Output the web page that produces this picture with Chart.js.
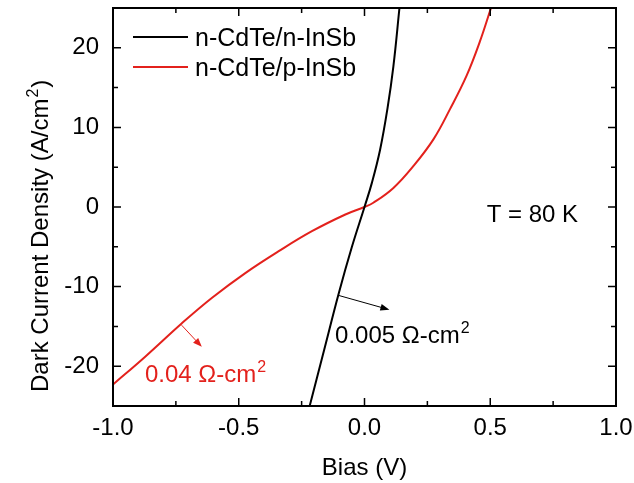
<!DOCTYPE html>
<html>
<head>
<meta charset="utf-8">
<script src="https://cdn.jsdelivr.net/npm/chart.js@4.4.1/dist/chart.umd.min.js"></script>
<style>
  html, body { margin: 0; padding: 0; background: #fff; }
  #wrap { width: 634px; height: 483px; }
</style>
</head>
<body>
<div id="wrap"><canvas id="ivChart"></canvas></div>
<script>
// n-CdTe/n-InSb (black)
const biasN = [-0.218, -0.16, -0.102, -0.05, 0, 0.029, 0.062, 0.091, 0.115, 0.139];
const currentN = [-25, -17.9, -10.8, -5.0, 0, 3.0, 7.2, 12.3, 17.7, 25];

// n-CdTe/p-InSb (red)
const biasP = [-1.0, -0.872, -0.726, -0.606, -0.474, -0.341, -0.209, -0.076, 0, 0.035, 0.115, 0.194, 0.274, 0.34, 0.406, 0.459, 0.503];
const currentP = [-22.3, -18.8, -14.6, -11.4, -8.3, -5.55, -3.04, -0.94, 0, 0.53, 2.4, 5.13, 8.5, 12.3, 16.5, 20.8, 25];

const xTicks = [-1.0, -0.5, 0.0, 0.5, 1.0];
const xMinor = [-0.75, -0.25, 0.25, 0.75];
const yTicks = [-20, -10, 0, 10, 20];
const yMinor = [-15, -5, 5, 15];

const FONT = 'Liberation Sans, Arial, sans-serif';
const RED = '#e3211c';

function toPoints(xs, ys) {
  return xs.map((x, i) => ({ x: x, y: ys[i] }));
}

// frame + inward ticks on all four sides
const frameTicks = {
  id: 'frameTicks',
  afterDraw(chart) {
    const c = chart.ctx, a = chart.chartArea;
    const sx = chart.scales.x, sy = chart.scales.y;
    c.save();
    c.strokeStyle = '#000';
    c.lineWidth = 2;
    c.strokeRect(a.left, a.top, a.right - a.left, a.bottom - a.top);
    c.lineWidth = 1.5;
    c.beginPath();
    const xt = (vals, len) => vals.forEach(v => {
      const p = sx.getPixelForValue(v);
      c.moveTo(p, a.bottom); c.lineTo(p, a.bottom - len);
      c.moveTo(p, a.top); c.lineTo(p, a.top + len);
    });
    const yt = (vals, len) => vals.forEach(v => {
      const p = sy.getPixelForValue(v);
      c.moveTo(a.left, p); c.lineTo(a.left + len, p);
      c.moveTo(a.right, p); c.lineTo(a.right - len, p);
    });
    xt(xTicks, 8); xt(xMinor, 5);
    yt(yTicks, 8); yt(yMinor, 5);
    c.stroke();
    c.restore();
  }
};

function arrow(c, x1, y1, x2, y2, color) {
  const ang = Math.atan2(y2 - y1, x2 - x1);
  c.strokeStyle = color; c.fillStyle = color; c.lineWidth = 1;
  c.beginPath(); c.moveTo(x1, y1); c.lineTo(x2 - 6 * Math.cos(ang), y2 - 6 * Math.sin(ang)); c.stroke();
  c.beginPath();
  c.moveTo(x2, y2);
  c.lineTo(x2 - 9 * Math.cos(ang) + 3.5 * Math.sin(ang), y2 - 9 * Math.sin(ang) - 3.5 * Math.cos(ang));
  c.lineTo(x2 - 9 * Math.cos(ang) - 3.5 * Math.sin(ang), y2 - 9 * Math.sin(ang) + 3.5 * Math.cos(ang));
  c.closePath(); c.fill();
}

// text with a raised "2", optional tail after it
function supText(c, text, x, y, color, tail) {
  c.fillStyle = color;
  c.font = '24px ' + FONT;
  c.textBaseline = 'alphabetic';
  c.textAlign = 'left';
  c.fillText(text, x, y);
  let w = c.measureText(text).width;
  c.font = '16px ' + FONT;
  c.fillText('2', x + w + 1, y - 10);
  if (tail) {
    w += c.measureText('2').width + 2;
    c.font = '24px ' + FONT;
    c.fillText(tail, x + w, y);
  }
}

const notes = {
  id: 'notes',
  afterDraw(chart) {
    const c = chart.ctx;
    const sx = chart.scales.x, sy = chart.scales.y;
    const X = v => sx.getPixelForValue(v), Y = v => sy.getPixelForValue(v);
    c.save();
    // y axis title, rotated
    c.save();
    c.translate(48, 392);
    c.rotate(-Math.PI / 2);
    supText(c, 'Dark Current Density (A/cm', 0, 0, '#000', ')');
    c.restore();
    // legend
    const items = [['n-CdTe/n-InSb', '#000', 37], ['n-CdTe/p-InSb', RED, 67]];
    items.forEach(([label, col, ly]) => {
      c.strokeStyle = col; c.lineWidth = 2;
      c.beginPath(); c.moveTo(133, ly); c.lineTo(188, ly); c.stroke();
      c.fillStyle = '#000';
      c.font = '25px ' + FONT;
      c.textBaseline = 'alphabetic';
      c.textAlign = 'left';
      c.fillText(label, 195, ly + 9);
    });
    // temperature
    c.fillStyle = '#000';
    c.font = '24px ' + FONT;
    c.fillText('T = 80 K', X(0.486), Y(-1.9));
    // resistance notes
    arrow(c, X(-0.104), Y(-11.1), X(0.099), Y(-12.9), '#000');
    supText(c, '0.005 \u03A9-cm', X(-0.117), Y(-17.1), '#000');
    arrow(c, X(-0.727), Y(-14.85), X(-0.647), Y(-17.57), RED);
    supText(c, '0.04 \u03A9-cm', X(-0.873), Y(-22.0), RED);
    c.restore();
  }
};

new Chart(document.getElementById('ivChart'), {
  type: 'line',
  data: {
    datasets: [
      {
        label: 'n-CdTe/n-InSb',
        data: toPoints(biasN, currentN),
        borderColor: '#000',
        borderWidth: 2,
        pointRadius: 0,
        tension: 0.4,
        fill: false
      },
      {
        label: 'n-CdTe/p-InSb',
        data: toPoints(biasP, currentP),
        borderColor: RED,
        borderWidth: 2,
        pointRadius: 0,
        tension: 0.4,
        fill: false
      }
    ]
  },
  options: {
    responsive: true,
    maintainAspectRatio: false,
    animation: false,
    layout: { padding: { top: 8, right: 18, left: 0, bottom: 0 } },
    plugins: {
      legend: { display: false },
      tooltip: { enabled: false }
    },
    scales: {
      x: {
        type: 'linear',
        min: -1, max: 1,
        afterBuildTicks: s => { s.ticks = xTicks.map(v => ({ value: v })); },
        afterFit: s => { s.height = 77; s.paddingLeft = 0; s.paddingRight = 0; },
        grid: { display: false, drawTicks: false },
        border: { display: false },
        ticks: {
          font: { family: FONT, size: 24 }, color: '#000', padding: 8,
          maxRotation: 0,
          callback: v => v.toFixed(1)
        },
        title: {
          display: true, text: 'Bias (V)',
          font: { family: FONT, size: 24 }, color: '#000', padding: { top: 6, bottom: 0 }
        }
      },
      y: {
        type: 'linear',
        min: -25, max: 25,
        afterBuildTicks: s => { s.ticks = yTicks.map(v => ({ value: v })); },
        afterFit: s => { s.width = 113; s.paddingTop = 0; s.paddingBottom = 0; },
        grid: { display: false, drawTicks: false },
        border: { display: false },
        ticks: {
          font: { family: FONT, size: 24 }, color: '#000', padding: 14,
          callback: v => String(v)
        },
        title: { display: false }
      }
    }
  },
  plugins: [frameTicks, notes]
});
</script>
</body>
</html>
